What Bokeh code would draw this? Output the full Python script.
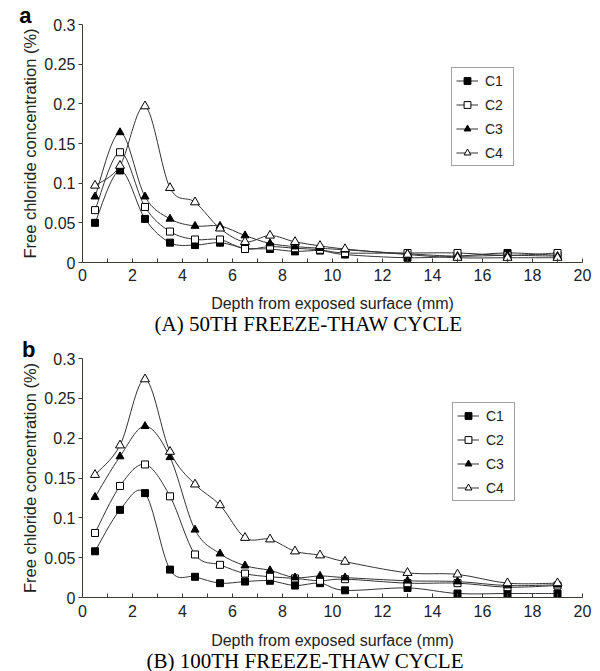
from bokeh.plotting import figure
from bokeh.models import Range1d, FixedTicker, Legend, LegendItem, Title
from bokeh.layouts import column
from bokeh.embed import file_html
from bokeh.resources import INLINE

# ---------------- data ----------------
depth = [0.5, 1.5, 2.5, 3.5, 4.5, 5.5, 6.5, 7.5, 8.5, 9.5, 10.5, 13, 15, 17, 19]

a_c1 = [0.050, 0.116, 0.055, 0.025, 0.022, 0.025, 0.018, 0.017, 0.014, 0.015, 0.010, 0.006, 0.008, 0.012, 0.009]
a_c2 = [0.066, 0.139, 0.070, 0.039, 0.029, 0.029, 0.017, 0.020, 0.018, 0.016, 0.012, 0.012, 0.012, 0.009, 0.012]
a_c3 = [0.083, 0.164, 0.083, 0.055, 0.046, 0.046, 0.034, 0.024, 0.020, 0.018, 0.016, 0.011, 0.008, 0.009, 0.008]
a_c4 = [0.097, 0.122, 0.197, 0.094, 0.076, 0.043, 0.026, 0.034, 0.026, 0.021, 0.017, 0.010, 0.006, 0.006, 0.006]

b_c1 = [0.058, 0.110, 0.131, 0.035, 0.026, 0.018, 0.020, 0.021, 0.015, 0.018, 0.009, 0.012, 0.005, 0.005, 0.005]
b_c2 = [0.081, 0.140, 0.167, 0.127, 0.054, 0.041, 0.030, 0.026, 0.024, 0.021, 0.023, 0.018, 0.018, 0.013, 0.015]
b_c3 = [0.126, 0.177, 0.215, 0.176, 0.085, 0.055, 0.040, 0.034, 0.025, 0.027, 0.025, 0.021, 0.020, 0.015, 0.016]
b_c4 = [0.154, 0.191, 0.274, 0.183, 0.142, 0.116, 0.075, 0.073, 0.058, 0.053, 0.045, 0.031, 0.029, 0.018, 0.018]

series_names = ["C1", "C2", "C3", "C4"]
x_ticks = [0, 2, 4, 6, 8, 10, 12, 14, 16, 18, 20]
x_minor_ticks = [1, 3, 5, 7, 9, 11, 13, 15, 17, 19]
y_ticks = [0, 0.05, 0.1, 0.15, 0.2, 0.25, 0.3]
y_tick_labels = ["0", "0.05", "0.1", "0.15", "0.2", "0.25", "0.3"]
x_label = "Depth from exposed surface (mm)"
y_label = "Free chloride concentration\u00a0(%)"
captions = ["(A) 50TH FREEZE-THAW CYCLE", "(B) 100TH FREEZE-THAW CYCLE"]
letters = ["a", "b"]

# ---------------- styles ----------------
MARKERS = [("square", "black", 7), ("square", "white", 7),
           ("triangle", "black", 8), ("triangle", "white", 9)]
LINE_COL = "#333333"
AX_COL = "#3c3c34"
TXT = "#222222"
SANS = "Liberation Sans"
SERIF = "Liberation Serif"


def bezier_segments(xs, ys):
    n = len(xs)
    out = dict(x0=[], y0=[], x1=[], y1=[], cx0=[], cy0=[], cx1=[], cy1=[])
    for i in range(n - 1):
        xp, yp = (xs[i - 1], ys[i - 1]) if i > 0 else (xs[i], ys[i])
        xn, yn = (xs[i + 2], ys[i + 2]) if i + 2 < n else (xs[i + 1], ys[i + 1])
        out["x0"].append(xs[i]); out["y0"].append(ys[i])
        out["x1"].append(xs[i + 1]); out["y1"].append(ys[i + 1])
        out["cx0"].append(xs[i] + (xs[i + 1] - xp) / 6.0)
        out["cy0"].append(ys[i] + (ys[i + 1] - yp) / 6.0)
        out["cx1"].append(xs[i + 1] - (xn - xs[i]) / 6.0)
        out["cy1"].append(ys[i + 1] - (yn - ys[i]) / 6.0)
    return out


def make_panel(series, letter, caption, height, b_left, b_right, b_top, b_bottom,
               leg_loc, let_off, tick_sd, xl_sd, cap_off, cap_sd):
    p = figure(width=600, height=height, output_backend="svg", toolbar_location=None,
               x_range=Range1d(0, 20), y_range=Range1d(0, 0.3),
               min_border_left=b_left, min_border_right=b_right,
               min_border_top=b_top, min_border_bottom=b_bottom)
    p.outline_line_color = None
    p.xgrid.visible = False
    p.ygrid.visible = False
    p.background_fill_color = "white"

    # panel letter as the (top) title, measured from the frame's right edge
    p.title.text = letter
    p.title.align = "right"
    p.title.offset = let_off
    p.title.standoff = -6
    p.title.text_font = SANS
    p.title.text_font_size = "22px"
    p.title.text_font_style = "bold"
    p.title.text_color = "black"

    xa = p.xaxis[0]
    xa.ticker = FixedTicker(ticks=x_ticks, minor_ticks=x_minor_ticks)
    xa.major_tick_in = 4
    xa.major_tick_out = 0
    xa.minor_tick_in = 4
    xa.minor_tick_out = 0
    xa.axis_line_color = AX_COL
    xa.major_tick_line_color = AX_COL
    xa.minor_tick_line_color = AX_COL
    xa.major_label_text_font = SANS
    xa.major_label_text_font_size = "16px"
    xa.major_label_text_color = TXT
    xa.major_label_standoff = tick_sd
    xa.axis_label = x_label
    xa.axis_label_text_font = SANS
    xa.axis_label_text_font_size = "16px"
    xa.axis_label_text_font_style = "normal"
    xa.axis_label_text_color = TXT
    xa.axis_label_standoff = xl_sd

    ya = p.yaxis[0]
    ya.ticker = FixedTicker(ticks=y_ticks, minor_ticks=[])
    ya.major_label_overrides = {t: s for t, s in zip(y_ticks, y_tick_labels)}
    ya.major_tick_in = 0
    ya.major_tick_out = 4
    ya.minor_tick_in = 0
    ya.minor_tick_out = 0
    ya.axis_line_color = AX_COL
    ya.major_tick_line_color = AX_COL
    ya.major_label_text_font = SANS
    ya.major_label_text_font_size = "16px"
    ya.major_label_text_color = TXT
    ya.major_label_standoff = 3

    ylab = Title(text=y_label, align="center", vertical_align="bottom", standoff=5,
                 text_font=SANS, text_font_size="16.5px", text_font_style="normal",
                 text_color=TXT)
    p.add_layout(ylab, "left")

    items = []
    for name, vals, (mk, fill, size) in zip(series_names, series, MARKERS):
        seg = bezier_segments(depth, vals)
        br = p.bezier(x0=seg["x0"], y0=seg["y0"], x1=seg["x1"], y1=seg["y1"],
                      cx0=seg["cx0"], cy0=seg["cy0"], cx1=seg["cx1"], cy1=seg["cy1"],
                      line_color=LINE_COL, line_width=1)
        sr = p.scatter(depth, vals, marker=mk, size=size, fill_color=fill,
                       line_color="black", line_width=1)
        items.append(LegendItem(label=name, renderers=[br, sr]))

    leg = Legend(items=items, location=leg_loc)
    leg.border_line_color = "#444444"
    leg.border_line_width = 1
    leg.background_fill_color = "white"
    leg.background_fill_alpha = 1
    leg.label_text_font = SANS
    leg.label_text_font_size = "14px"
    leg.label_text_color = TXT
    leg.glyph_width = 22
    leg.glyph_height = 17
    leg.label_height = 17
    leg.label_width = 24
    leg.spacing = 7
    leg.padding = 4
    leg.margin = 0
    leg.label_standoff = 7
    p.add_layout(leg, "center")

    cap = Title(text=caption, align="left", vertical_align="top", offset=cap_off,
                standoff=cap_sd, text_font=SERIF, text_font_size="21px",
                text_font_style="normal", text_color="black")
    p.add_layout(cap, "below")
    return p


pa = make_panel([a_c1, a_c2, a_c3, a_c4], letters[0], captions[0], 336,
                77, 18, 24, 74, (369, 96), 551, 6, 11, 72, -6)
pb = make_panel([b_c1, b_c2, b_c3, b_c4], letters[1], captions[1], 335,
                82, 13, 22, 73, (370, 96), 547, 7, 12, 64, -6)

layout = column(pa, pb, spacing=0)
open("out.html", "w").write(file_html(layout, INLINE))
